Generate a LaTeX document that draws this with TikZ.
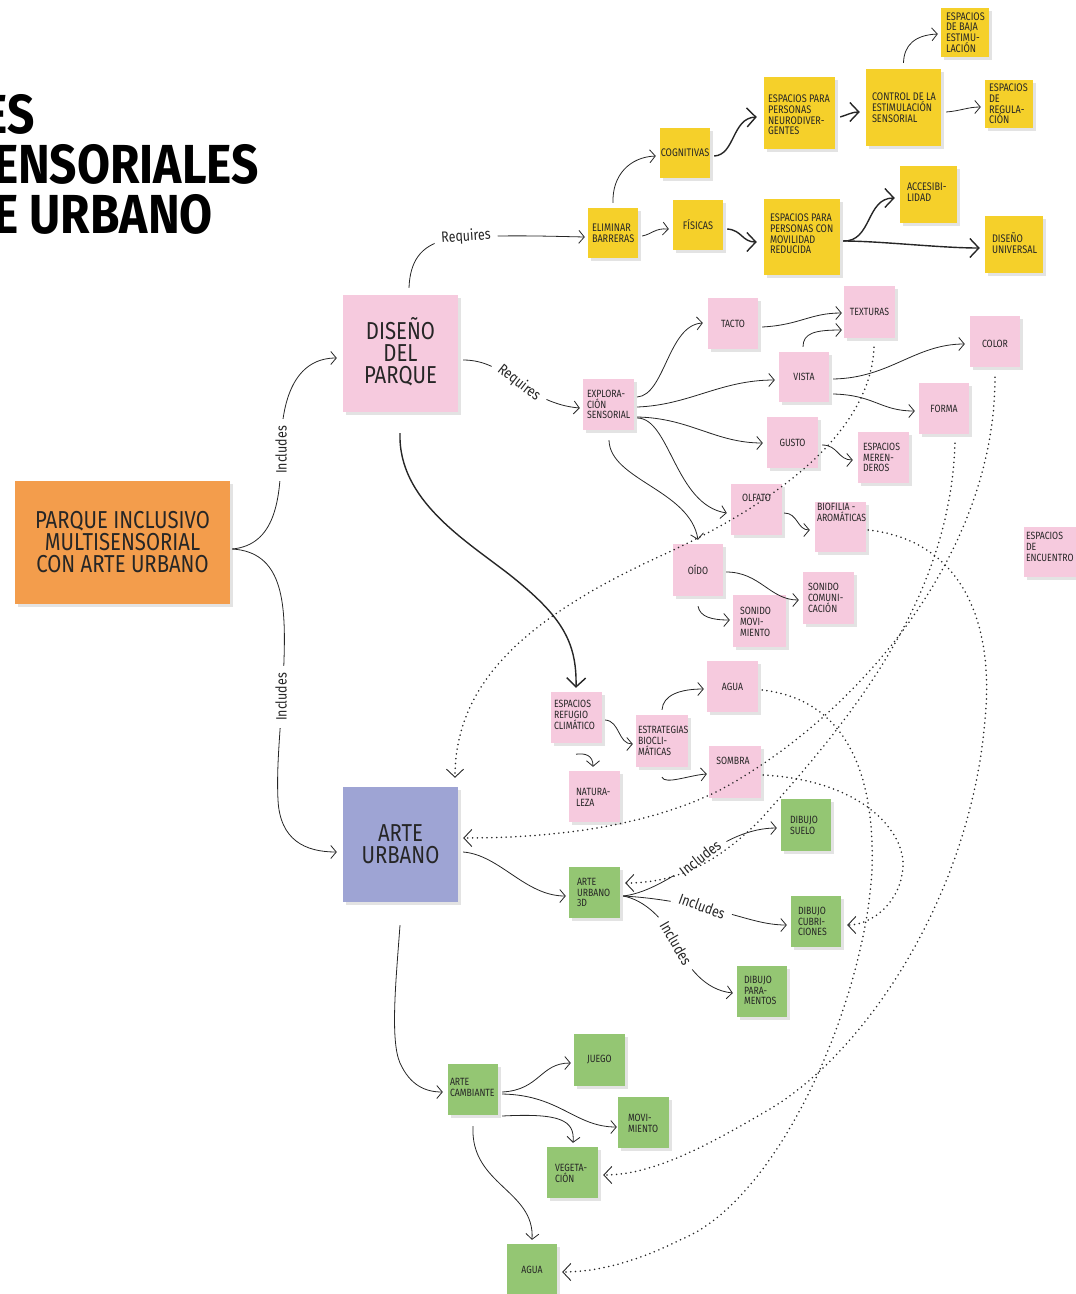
\documentclass[tikz,border=0pt]{standalone}
\usepackage{fontspec}
\setmainfont{Fira Sans}[FakeStretch=0.83]
\newfontfamily\titlefont{Fira Sans}[FakeStretch=0.87]
\usetikzlibrary{arrows.meta,shadows}
\definecolor{yel}{RGB}{245,208,42}
\definecolor{pnk}{RGB}{246,202,222}
\definecolor{ora}{RGB}{243,157,76}
\definecolor{pur}{RGB}{158,164,212}
\definecolor{grn}{RGB}{148,198,115}
\definecolor{ink}{RGB}{38,38,38}
\tikzset{
  shadowed/.style={drop shadow={shadow xshift=2.5pt,shadow yshift=-2.5pt,fill=black!11,opacity=1}},
  sz/.style 2 args={minimum width=#1pt,minimum height=#2pt},
  note/.style={inner sep=0pt,draw=none,shadowed},
  yb/.style={note,fill=yel},
  pb/.style={note,fill=pnk},
  gb/.style={note,fill=grn},
  ty/.style={inner sep=0pt,align=left,text=ink,font=\fontsize{11}{10.8}\selectfont},
  tp/.style={inner sep=0pt,align=left,text=ink,font=\fontsize{10.5}{10.8}\selectfont},
  tbig/.style={inner sep=0pt,align=center,text=ink,font=\fontsize{24.5}{22}\selectfont},
  ttl/.style={inner sep=0pt,text=black,font={\titlefont\bfseries\fontsize{55}{55}\selectfont}},
  lab/.style={fill=white,inner xsep=7pt,inner ysep=1pt,text=ink,font=\fontsize{15}{15}\selectfont},
  con/.style={draw=ink,line width=0.8pt,-{Straight Barb[length=5.5pt,width=13pt]}},
  conth/.style={draw=ink,line width=1.4pt,-{Straight Barb[length=9pt,width=19pt]}},
  dots/.style={draw=ink,line width=1.75pt,line cap=round,dash pattern=on 0pt off 4.8pt,
    -{Straight Barb[length=8pt,width=17pt,line width=0.9pt]}},
}
\begin{document}
\begin{tikzpicture}[x=1pt,y=-1pt]
\useasboundingbox (0,0) rectangle (1076,1294);
\clip (0,0) rectangle (1076,1294);

% title
\node[ttl,anchor=base east] (t1) at (35,133) {ES};
\node[ttl,anchor=base east] (t2) at (259,183) {ENSORIALES};
\node[ttl,anchor=base east] (t3) at (213,233) {E URBANO};

% main nodes
\node[note,fill=ora,sz={215}{123}] (parque) at (122.5,542.5) {};
\node[tbig] (tparque) at (parque.center) {PARQUE INCLUSIVO\\MULTISENSORIAL\\CON ARTE URBANO};
\node[pb,sz={115}{117}] (diseno) at (400.5,353.5) {};
\node[tbig] (tdiseno) at ([shift={(0,-2)}]diseno.center) {DISEÑO\\DEL\\PARQUE};
\node[note,fill=pur,sz={115}{115}] (arte) at (400.5,844.5) {};
\node[tbig] (tarte) at (arte.center) {ARTE\\URBANO};

% yellow
\node[yb,sz={50}{50}] (elim) at (613,233) {};
\node[ty,anchor=west] (telim) at ([shift={(4,0)}]elim.west) {ELIMINAR\\BARRERAS};
\node[yb,sz={50}{50}] (fis) at (698,225) {};
\node[ty] (tfis) at (fis.center) {FÍSICAS};
\node[yb,sz={50}{50}] (cogn) at (685,153) {};
\node[ty] (tcogn) at (cogn.center) {COGNITIVAS};
\node[yb,sz={71}{72}] (neuro) at (799.5,113) {};
\node[ty,anchor=west] (tneuro) at ([shift={(4,2)}]neuro.west) {ESPACIOS PARA\\PERSONAS\\NEURODIVER-\\GENTES};
\node[yb,sz={75}{77}] (control) at (903.5,107.5) {};
\node[ty,anchor=west] (tcontrol) at ([shift={(6,0)}]control.west) {CONTROL DE LA\\ESTIMULACIÓN\\SENSORIAL};
\node[yb,sz={48}{49}] (baja) at (965,32.5) {};
\node[ty,anchor=west] (tbaja) at ([shift={(5,0)}]baja.west) {ESPACIOS\\DE BAJA\\ESTIMU-\\LACIÓN};
\node[yb,sz={48}{48}] (regul) at (1009,104) {};
\node[ty,anchor=west] (tregul) at ([shift={(4,0)}]regul.west) {ESPACIOS\\DE\\REGULA-\\CIÓN};
\node[yb,sz={76}{76}] (movil) at (802,237) {};
\node[ty,anchor=west] (tmovil) at ([shift={(6,-3)}]movil.west) {ESPACIOS PARA\\PERSONAS CON\\MOVILIDAD\\REDUCIDA};
\node[yb,sz={57}{57}] (acces) at (928.5,194.5) {};
\node[ty,anchor=west] (tacces) at ([shift={(7,-2)}]acces.west) {ACCESIBI-\\LIDAD};
\node[yb,sz={58}{57}] (univ) at (1014,244.5) {};
\node[ty,anchor=west] (tuniv) at ([shift={(7,-1.5)}]univ.west) {DISEÑO\\UNIVERSAL};

% pink
\node[pb,sz={51}{51}] (explo) at (608.5,404.5) {};
\node[tp,anchor=west] (texplo) at ([shift={(4,0)}]explo.west) {EXPLORA-\\CIÓN\\SENSORIAL};
\node[pb,sz={50}{51}] (tacto) at (733,323.5) {};
\node[tp] (ttacto) at (tacto.center) {TACTO};
\node[pb,sz={51}{52}] (textur) at (869.5,312) {};
\node[tp] (ttextur) at (textur.center) {TEXTURAS};
\node[pb,sz={50}{50}] (vista) at (804,377) {};
\node[tp] (tvista) at (vista.center) {VISTA};
\node[pb,sz={50}{51}] (color) at (995,341.5) {};
\node[tp] (tcolor) at ([shift={(0,2.5)}]color.center) {COLOR};
\node[pb,sz={50}{51}] (forma) at (944,408.5) {};
\node[tp] (tforma) at (forma.center) {FORMA};
\node[pb,sz={51}{51}] (gusto) at (792.5,442.5) {};
\node[tp] (tgusto) at (gusto.center) {GUSTO};
\node[pb,sz={51}{51}] (meren) at (883.5,457.5) {};
\node[tp,anchor=west] (tmeren) at ([shift={(5,0)}]meren.west) {ESPACIOS\\MEREN-\\DEROS};
\node[pb,sz={51}{51}] (olfato) at (756.5,509.5) {};
\node[tp] (tolfato) at ([shift={(0,-11.5)}]olfato.center) {OLFATO};
\node[pb,sz={51}{50}] (biof) at (840.5,527) {};
\node[tp,anchor=west] (tbiof) at ([shift={(2,-14.5)}]biof.west) {BIOFILIA -\\AROMÁTICAS};
\node[pb,sz={54}{50}] (encu) at (1051,552) {};
\node[tp,anchor=west] (tencu) at ([shift={(2,-5)}]encu.west) {ESPACIOS\\DE\\ENCUENTRO};
\node[pb,sz={51}{52}] (sonc) at (828.5,598) {};
\node[tp,anchor=west] (tsonc) at ([shift={(5,0)}]sonc.west) {SONIDO\\COMUNI-\\CACIÓN};
\node[pb,sz={53}{52}] (sonm) at (759.5,621) {};
\node[tp,anchor=west] (tsonm) at ([shift={(7,1)}]sonm.west) {SONIDO\\MOVI-\\MIENTO};
\node[pb,sz={50}{52}] (oido) at (698,570) {};
\node[tp] (toido) at (oido.center) {OÍDO};
\node[pb,sz={51}{51}] (aguap) at (732.5,686.5) {};
\node[tp] (taguap) at (aguap.center) {AGUA};
\node[pb,sz={52}{52}] (sombra) at (735,772) {};
\node[tp] (tsombra) at ([shift={(-2,-11.5)}]sombra.center) {SOMBRA};
\node[pb,sz={52}{52}] (estrat) at (662,741) {};
\node[tp,anchor=west] (testrat) at ([shift={(2,0)}]estrat.west) {ESTRATEGIAS\\BIOCLI-\\MÁTICAS};
\node[pb,sz={51}{51}] (refug) at (576.5,717.5) {};
\node[tp,anchor=west] (trefug) at ([shift={(3,-2.5)}]refug.west) {ESPACIOS\\REFUGIO\\CLIMÁTICO};
\node[pb,sz={51}{51}] (natur) at (594.5,796.5) {};
\node[tp,anchor=west] (tnatur) at ([shift={(7,0.5)}]natur.west) {NATURA-\\LEZA};

% green
\node[gb,sz={51}{51}] (a3d) at (594.5,892.5) {};
\node[tp,anchor=west] (ta3d) at ([shift={(8,0)}]a3d.west) {ARTE\\URBANO\\3D};
\node[gb,sz={50}{52}] (suelo) at (806,825) {};
\node[tp,anchor=west] (tsuelo) at ([shift={(9,0)}]suelo.west) {DIBUJO\\SUELO};
\node[gb,sz={50}{51}] (cubri) at (816,921.5) {};
\node[tp,anchor=west] (tcubri) at ([shift={(7,0)}]cubri.west) {DIBUJO\\CUBRI-\\CIONES};
\node[gb,sz={50}{51}] (param) at (762,991.5) {};
\node[tp,anchor=west] (tparam) at ([shift={(7,-1)}]param.west) {DIBUJO\\PARA-\\MENTOS};
\node[gb,sz={51}{52}] (juego) at (599.5,1060) {};
\node[tp] (tjuego) at (juego.center) {JUEGO};
\node[gb,sz={50}{51}] (cambi) at (473,1089.5) {};
\node[tp,anchor=west] (tcambi) at ([shift={(2,-2)}]cambi.west) {ARTE\\CAMBIANTE};
\node[gb,sz={51}{51}] (movim) at (643.5,1122.5) {};
\node[tp,anchor=west] (tmovim) at ([shift={(10,1)}]movim.west) {MOVI-\\MIENTO};
\node[gb,sz={51}{51}] (veget) at (572.5,1172.5) {};
\node[tp,anchor=west] (tveget) at ([shift={(8,0.5)}]veget.west) {VEGETA-\\CIÓN};
\node[gb,sz={50}{52}] (aguag) at (532,1270) {};
\node[tp] (taguag) at (aguag.center) {AGUA};

% solid connectors
\draw[con] ([shift={(2,6.5)}]parque.east) .. controls (275,545) and (281,500) .. (281,450)
   .. controls (281,390) and (300,358) .. ([shift={(-6,4.5)}]diseno.west);
\draw[con] ([shift={(2,6.5)}]parque.east) .. controls (282,552) and (286,600) .. (284,660)
   .. controls (282,720) and (276,760) .. (278,800)
   .. controls (280,840) and (305,852) .. ([shift={(-6,7.5)}]arte.west);
\draw[con] ([shift={(8.5,-7)}]diseno.north) .. controls (410,262) and (420,246) .. (445,240)
   .. controls (480,234) and (540,236) .. ([shift={(-3,4)}]elim.west);
\draw[con] ([shift={(5,6.5)}]diseno.east) .. controls (485,360) and (500,370) .. (519,383)
   .. controls (535,395) and (555,406) .. ([shift={(-3,3.5)}]explo.west);
\draw[conth] ([shift={(-0.5,21)}]diseno.south) .. controls (398,500) and (465,540) .. (510,575)
   .. controls (560,615) and (577,640) .. ([shift={(-0.5,-4)}]refug.north);

\node[lab,rotate=90] (l1) at (281,450) {Includes};
\node[lab,rotate=90] (l2) at (281,697) {Includes};
\node[lab,rotate=4] (l3) at (466,237) {Requires};
\node[lab,rotate=-38] (l4) at (519,383) {Requires};

\draw[con] ([shift={(0,-5)}]elim.north) .. controls (612,175) and (630,157) .. ([shift={(-4,3)}]cogn.west);
\draw[con] ([shift={(4,3)}]elim.east) .. controls (652,234) and (655,228) .. ([shift={(-4,4)}]fis.west);
\draw[conth] ([shift={(4,3)}]cogn.east) .. controls (735,155) and (732,118) .. ([shift={(-7,4)}]neuro.west);
\draw[conth] ([shift={(4,4)}]fis.east) .. controls (742,230) and (742,242) .. ([shift={(-7,5)}]movil.west);
\draw[conth] ([shift={(5,4)}]neuro.east) .. controls (847,115) and (852,112) .. ([shift={(-6,4.5)}]control.west);
\draw[con] ([shift={(0,-6)}]control.north) .. controls (904,45) and (915,35) .. ([shift={(-3,1.5)}]baja.west);
\draw[con] ([shift={(5,4.5)}]control.east) .. controls (960,111) and (968,107) .. ([shift={(-4,3)}]regul.west);
\draw[conth] ([shift={(3,4)}]movil.east) .. controls (872,242) and (866,198) .. ([shift={(-5,3.5)}]acces.west);
\draw[conth] ([shift={(3,4)}]movil.east) .. controls (880,241) and (940,248) .. ([shift={(-5,3.5)}]univ.west);

\draw[con] ([shift={(3,-7.5)}]explo.east) .. controls (665,395) and (668,325) .. ([shift={(-5,-0.5)}]tacto.west);
\draw[con] ([shift={(3,2.5)}]explo.east) .. controls (690,405) and (720,380) .. ([shift={(-4,3)}]vista.west);
\draw[con] ([shift={(3,12.5)}]explo.east) .. controls (690,418) and (715,443) .. ([shift={(-4,0.5)}]gusto.west);
\draw[con] ([shift={(3,13.5)}]explo.east) .. controls (670,418) and (675,505) .. ([shift={(-4,3.5)}]olfato.west);
\draw[con] ([shift={(0.5,10)}]explo.south) .. controls (610,480) and (690,490) .. ([shift={(0,-4)}]oido.north);
\draw[con] ([shift={(4,3.5)}]tacto.east) .. controls (800,325) and (810,313) .. ([shift={(-2,1)}]textur.west);
\draw[con] ([shift={(-1,-5)}]vista.north) .. controls (803,333) and (815,330) .. ([shift={(-2,18)}]textur.west);
\draw[con] ([shift={(4,2)}]vista.east) .. controls (890,378) and (915,344) .. ([shift={(-5,2.5)}]color.west);
\draw[con] ([shift={(4,17)}]vista.east) .. controls (875,395) and (880,411) .. ([shift={(-4,2.5)}]forma.west);
\draw[con] ([shift={(4,2.5)}]gusto.east) .. controls (838,445) and (838,460) .. ([shift={(-5,2.5)}]meren.west);
\draw[con] ([shift={(2,3.5)}]olfato.east) .. controls (798,513) and (797,530) .. ([shift={(-5,3)}]biof.west);
\draw[con] ([shift={(3,2)}]oido.east) .. controls (760,572) and (770,600) .. ([shift={(-4,2)}]sonc.west);
\draw[con] ([shift={(0,10)}]oido.south) .. controls (700,617) and (712,620) .. ([shift={(-3,-1)}]sonm.west);
\draw[con] ([shift={(3,2.5)}]refug.east) .. controls (620,721) and (618,744) .. ([shift={(-3,3)}]estrat.west);
\draw[con] ([shift={(-0.5,11)}]refug.south) .. controls (585,753) and (593,755) .. ([shift={(-1.5,-4)}]natur.north);
\draw[con] ([shift={(0,-5)}]estrat.north) .. controls (663,695) and (680,689) .. ([shift={(-3,2.5)}]aguap.west);
\draw[con] ([shift={(0,10)}]estrat.south) .. controls (665,785) and (690,775) .. ([shift={(-2,2)}]sombra.west);

\draw[con] ([shift={(5,7.5)}]arte.east) .. controls (500,855) and (525,896) .. ([shift={(-3,3.5)}]a3d.west);
\draw[con] ([shift={(3,3.5)}]a3d.east) .. controls (650,893) and (680,872) .. (702,857)
   .. controls (725,840) and (750,828) .. ([shift={(-4,3)}]suelo.west);
\draw[con] ([shift={(3,3.5)}]a3d.east) .. controls (660,898) and (690,905) .. (702,907)
   .. controls (740,915) and (760,925) .. ([shift={(-4,3.5)}]cubri.west);
\draw[con] ([shift={(3,3.5)}]a3d.east) .. controls (645,900) and (665,920) .. (675,942)
   .. controls (688,968) and (705,990) .. ([shift={(-4,1.5)}]param.west);
\node[lab,rotate=38] (l5) at (700,858) {Includes};
\node[lab,rotate=-20] (l6) at (702,906) {Includes};
\node[lab,rotate=-60] (l7) at (676,943) {Includes};

\draw[con] ([shift={(-0.5,23)}]arte.south) .. controls (396,980) and (390,1040) .. (400,1063)
   .. controls (410,1085) and (425,1092) .. ([shift={(-5,2.5)}]cambi.west);
\draw[con] ([shift={(4,2.5)}]cambi.east) .. controls (540,1090) and (540,1063) .. ([shift={(-3,3)}]juego.west);
\draw[con] ([shift={(4,4.5)}]cambi.east) .. controls (560,1095) and (575,1127) .. ([shift={(-1,4.5)}]movim.west);
\draw[con] ([shift={(4,26.5)}]cambi.east) .. controls (560,1113) and (575,1120) .. ([shift={(0.5,-4)}]veget.north);
\draw[con] ([shift={(0,11)}]cambi.south) .. controls (470,1185) and (535,1190) .. ([shift={(0,-4)}]aguag.north);

% dotted connectors
\draw[dots] ([shift={(4.5,9)}]textur.south) .. controls (870,440) and (760,510) .. (667,553)
   .. controls (530,615) and (455,680) .. ([shift={(54.5,-9)}]arte.north);
\draw[dots] ([shift={(0,10)}]color.south) .. controls (995,560) and (850,720) .. (720,790)
   .. controls (640,830) and (540,838) .. ([shift={(5,-6.5)}]arte.east);
\draw[dots] ([shift={(11,9)}]forma.south) .. controls (950,600) and (850,720) .. (760,820)
   .. controls (720,860) and (680,883) .. ([shift={(5,-9.5)}]a3d.east);
\draw[dots] ([shift={(2,3)}]biof.east) .. controls (960,540) and (995,620) .. (985,720)
   .. controls (970,900) and (860,1060) .. (763,1113)
   .. controls (700,1150) and (650,1175) .. ([shift={(5,2.5)}]veget.east);
\draw[dots] ([shift={(4,3.5)}]aguap.east) .. controls (850,700) and (875,780) .. (872,870)
   .. controls (865,1000) and (780,1200) .. (680,1240)
   .. controls (640,1260) and (600,1272) .. ([shift={(5,2)}]aguag.east);
\draw[dots] ([shift={(2,3)}]sombra.east) .. controls (860,780) and (905,830) .. (903,867)
   .. controls (900,905) and (870,925) .. ([shift={(6,3.5)}]cubri.east);
\end{tikzpicture}
\end{document}
